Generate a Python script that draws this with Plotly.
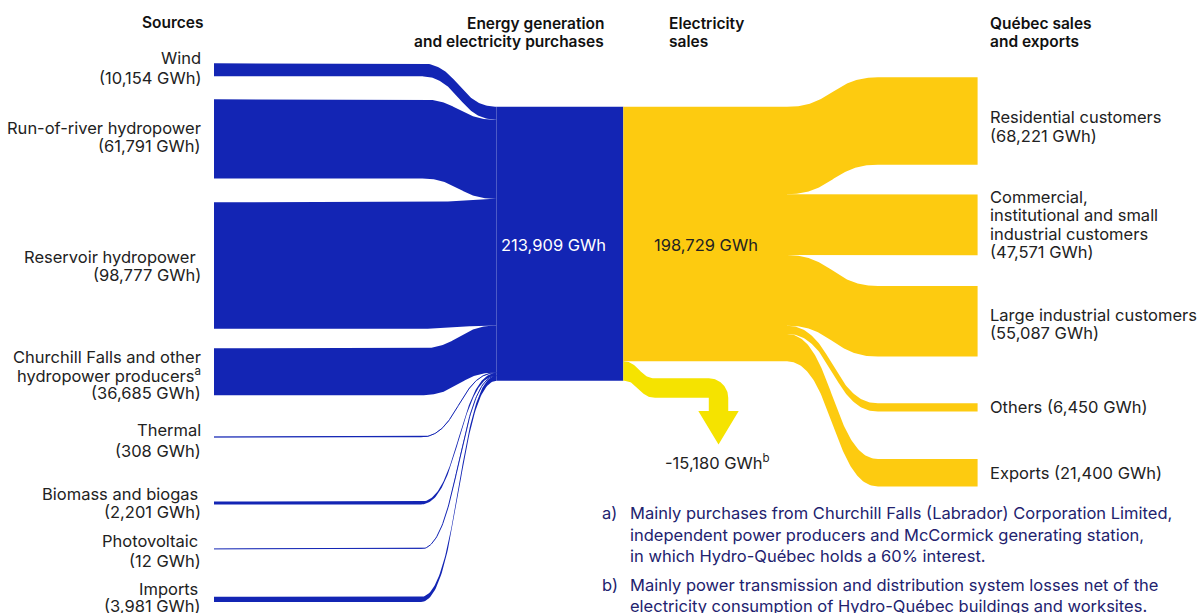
import numpy as np
import plotly.graph_objects as go

# ---------------------------------------------------------------- data (GWh)
source_names = [
    ["Wind"],
    ["Run-of-river hydropower"],
    ["Reservoir hydropower"],
    ["Churchill Falls and other", "hydropower producers<sup>a</sup>"],
    ["Thermal"],
    ["Biomass and biogas"],
    ["Photovoltaic"],
    ["Imports"],
]
source_values = [10154, 61791, 98777, 36685, 308, 2201, 12, 3981]

use_names = [
    ["Residential customers"],
    ["Commercial,", "institutional and small", "industrial customers"],
    ["Large industrial customers"],
    ["Others"],
    ["Exports"],
]
use_values = [68221, 47571, 55087, 6450, 21400]
use_inline = [False, False, False, True, True]   # value on the same line as the name

losses = 15180

total_supply = sum(source_values)   # 213,909 GWh
total_sales = sum(use_values)       # 198,729 GWh

# ---------------------------------------------------------------- layout
W, H = 1198, 613
GWH_PER_PX = total_supply / 274.0          # vertical scale of the flows


def Y(px):
    """Layout position (pixels from top) expressed in axis units (GWh)."""
    return px * GWH_PER_PX


BLUE = "#1325B4"
GOLD = "#FDCB10"
LOSS = "#F5E300"
TEXT = "#222222"
NAVY = "#22226E"
FONT = "Inter, 'Noto Sans', sans-serif"
LABEL_SIZE = 16.5
HEAD_SIZE = 15.5

SRC_X0, SRC_BEND = 214.0, 421.0
MID_X0, MID_X1 = 496.5, 623.3
SALES_X1, OUT_BEND, OUT_X1 = 787.0, 878.0, 977.6
NODE_TOP = 106.8

src_top_px = [63.3, 99.3, 202.3, 348.3, 436.8, 501.6, 548.9, 596.8]
use_top_px = [77.3, 194.4, 286.0, 403.3, 459.0]

src_label_right = [203, 203, 198, 203, 203, 200, 200, 200]
src_label_rows = [[58, 78], [128, 146], [257, 275], [357, 375, 393],
                  [430, 451], [494, 512], [541, 561], [589, 606]]
use_label_rows = [[117, 136], [197, 215, 234, 252], [315, 333], [407], [473]]


def smooth(x0, y0, x1, y1, n=80):
    """Cubic S-curve with horizontal tangents at both ends."""
    t = np.linspace(0, 1, n)
    xm = (x0 + x1) / 2
    x = (1 - t) ** 3 * x0 + 3 * (1 - t) ** 2 * t * xm + 3 * (1 - t) * t ** 2 * xm + t ** 3 * x1
    y = y0 + (y1 - y0) * (3 * t ** 2 - 2 * t ** 3)
    return x, y


def band(xa, xb, xc, xd, y_start, y_end, value):
    """Flow band: flat from xa to xb, curve from xb to xc, flat from xc to xd."""
    cx, cy = smooth(xb, y_start, xc, y_end)
    top_x = np.concatenate([[xa], cx, [xd]])
    top_y = np.concatenate([[y_start], cy, [y_end]])
    xs = np.concatenate([top_x, top_x[::-1], [top_x[0]]])
    ys = np.concatenate([top_y, (top_y + value)[::-1], [top_y[0]]])
    return xs, ys, top_x, top_y + value / 2


fig = go.Figure()


def add_poly(xs, ys, color):
    fig.add_trace(go.Scatter(x=xs, y=ys, mode="lines", fill="toself",
                             fillcolor=color, line=dict(width=0, color=color),
                             hoverinfo="skip", showlegend=False))


def add_line(xs, ys, color, width=1.0):
    fig.add_trace(go.Scatter(x=xs, y=ys, mode="lines",
                             line=dict(width=width, color=color),
                             hoverinfo="skip", showlegend=False))


# ---- sources -> generation node
slot = Y(NODE_TOP)
for top_px, v in zip(src_top_px, source_values):
    xs, ys, cx, cy = band(SRC_X0, SRC_BEND, MID_X0, MID_X0, Y(top_px), slot, v)
    add_poly(xs, ys, BLUE)
    if v / GWH_PER_PX < 1.2:
        add_line(cx, cy, BLUE, 1.0)
    slot += v

# ---- generation node and sales node
y0 = Y(NODE_TOP)
add_poly([MID_X0, MID_X1, MID_X1, MID_X0, MID_X0],
         [y0, y0, y0 + total_supply, y0 + total_supply, y0], BLUE)
add_poly([MID_X1, SALES_X1, SALES_X1, MID_X1, MID_X1],
         [y0, y0, y0 + total_sales, y0 + total_sales, y0], GOLD)

# ---- sales node -> customers
slot = y0
for top_px, v in zip(use_top_px, use_values):
    xs, ys, _, _ = band(SALES_X1, SALES_X1, OUT_BEND, OUT_X1, slot, Y(top_px), v)
    add_poly(xs, ys, GOLD)
    slot += v

# ---- losses arrow
t_px = losses / GWH_PER_PX
ls_top = NODE_TOP + total_sales / GWH_PER_PX     # start of the loss flow (px)
lt = ls_top + 17.0                               # horizontal run (px)
s_end, xc = 655.0, 708.8
base_y, tip_y, head_hw = 411.0, 444.6, 20.2

sx, sy = smooth(MID_X1, ls_top, s_end, lt, 40)
ang = np.linspace(-np.pi / 2, 0, 30)
arc_x = xc + t_px * np.cos(ang)
arc_y = (lt + t_px) + t_px * np.sin(ang)
mid = xc + t_px / 2
ax = np.concatenate([sx, arc_x, [xc + t_px, mid + head_hw, mid, mid - head_hw, xc, xc],
                     sx[::-1], [sx[0]]])
ay = np.concatenate([sy, arc_y, [base_y, base_y, tip_y, base_y, base_y, lt + t_px],
                     sy[::-1] + t_px, [sy[0]]])
add_poly(ax, Y(ay), LOSS)

# ---------------------------------------------------------------- text
ann = []


def label(x, y_px, text, anchor="left", color=TEXT, size=LABEL_SIZE, weight=400):
    ann.append(dict(x=x, y=Y(y_px), xref="x", yref="y", text=text, showarrow=False,
                    xanchor=anchor, yanchor="middle",
                    font=dict(family=FONT, size=size, color=color, weight=weight)))


# column headers
for x, y, txt, anc in [
    (206, 22, "Sources", "right"),
    (606, 23, "Energy generation", "right"),
    (606, 41, "and electricity purchases", "right"),
    (667, 23, "Electricity", "left"),
    (667, 41, "sales", "left"),
    (988, 23, "Québec sales", "left"),
    (988, 41, "and exports", "left"),
]:
    label(x, y, txt, anc, color="#111111", size=HEAD_SIZE, weight=600)

# source labels
for names, v, xr, rows in zip(source_names, source_values, src_label_right, src_label_rows):
    lines = names + [f"({v:,} GWh)"]
    for txt, yy in zip(lines, rows):
        label(203 if txt.startswith("(") else xr, yy, txt, "right")

# customer labels
for names, v, inline, rows in zip(use_names, use_values, use_inline, use_label_rows):
    if inline:
        lines = [f"{names[0]} ({v:,} GWh)"]
    else:
        lines = names + [f"({v:,} GWh)"]
    for txt, yy in zip(lines, rows):
        label(988, yy, txt, "left")

# node totals
label(553, 245, f"{total_supply:,} GWh", "center", color="white")
label(706, 245, f"{total_sales:,} GWh", "center")
label(717, 462, f"-{losses:,} GWh<sup>b</sup>", "center")

# notes
notes = [
    ("a)", [(513, "Mainly purchases from Churchill Falls (Labrador) Corporation Limited,"),
            (534.5, "independent power producers and McCormick generating station,"),
            (556, "in which Hydro-Québec holds a 60% interest.")]),
    ("b)", [(585, "Mainly power transmission and distribution system losses net of the"),
            (605.5, "electricity consumption of Hydro-Québec buildings and worksites.")]),
]
for tag, lines in notes:
    label(600, lines[0][0], tag, "left", color=NAVY)
    for yy, txt in lines:
        label(628, yy, txt, "left", color=NAVY)

fig.update_layout(
    width=W, height=H,
    margin=dict(l=0, r=0, t=0, b=0),
    paper_bgcolor="white", plot_bgcolor="white",
    xaxis=dict(range=[0, W], visible=False, fixedrange=True),
    yaxis=dict(range=[Y(H), 0], visible=False, fixedrange=True),
    annotations=ann,
    showlegend=False,
)

fig.write_html("out.html", config={"displayModeBar": False})
